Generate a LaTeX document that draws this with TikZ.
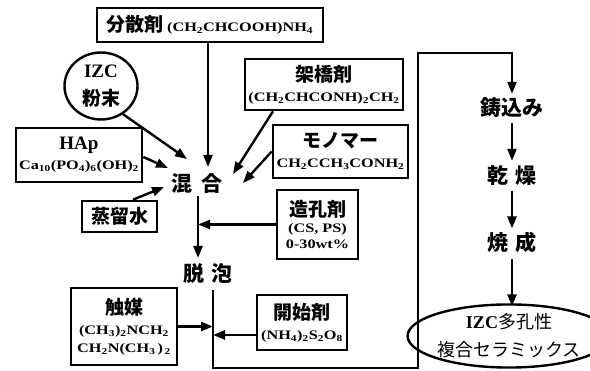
\documentclass[tikz,border=0pt]{standalone}
\usepackage{fontspec}
\setmainfont{Liberation Serif}
\newfontfamily\cjk{Noto Sans CJK JP}
\newfontfamily\chemf{Liberation Serif}[FakeStretch=1.25]
\newcommand\cjkb{\cjk\bfseries\fontsize{19}{22}\selectfont}
\newcommand\cjkbig{\cjk\bfseries\fontsize{21}{24}\selectfont}
\newcommand\chem{\chemf\bfseries\fontsize{13}{15}\selectfont}
\newcommand\latbig{\bfseries\fontsize{19}{21}\selectfont}
\usetikzlibrary{arrows.meta,shapes.geometric}
\tikzset{
  box/.style={draw,line width=2.6pt,inner sep=1pt,align=center,font=\bfseries\fontsize{13}{20}\selectfont},
  ell/.style={draw,ellipse,line width=2.4pt,inner sep=0pt,align=center,font=\fontsize{18}{28}\selectfont},
  lbl/.style={inner sep=2pt,font=\cjkbig},
  arr/.style={line width=2.4pt,-{Triangle[length=12pt,width=9pt]}},
  ln/.style={line width=2.4pt}
}
\begin{document}
\begin{tikzpicture}[x=1pt,y=-1pt]
\useasboundingbox (0,0) rectangle (590,371);
% boxes
\node[box,minimum width=226,minimum height=34] (disp) at (210,25) {{\cjkb 分散剤}\ {\chem (CH\textsubscript{2}CHCOOH)NH\textsubscript{4}}};
\node[ell,minimum width=73,minimum height=67] (izc) at (101,86) {{\latbig IZC}\\{\cjkb 粉末}};
\node[box,minimum width=126,minimum height=54] (hap) at (79,155) {{\latbig HAp}\\{\chem Ca\textsubscript{10}(PO\textsubscript{4})\textsubscript{6}(OH)\textsubscript{2}}};
\node[box,minimum width=158,minimum height=51] (cross) at (324,84.5) {{\cjkb 架橋剤}\\{\chem (CH\textsubscript{2}CHCONH)\textsubscript{2}CH\textsubscript{2}}};
\node[box,minimum width=135,minimum height=53] (mono) at (340.5,151.5) {{\cjkb モノマー}\\{\chem CH\textsubscript{2}CCH\textsubscript{3}CONH\textsubscript{2}}};
\node[box,minimum width=75,minimum height=31] (water) at (119.5,216.5) {{\cjkb 蒸留水}};
\node[box,minimum width=81,minimum height=69] (pore) at (317.5,224.5) {{\cjkb 造孔剤}\\[-4pt]{\chem (CS, PS)}\\[-4pt]{\chem 0-30wt\%}};
\node[box,minimum width=106,minimum height=77] (cat) at (124,326.5) {{\cjkb 触媒}\\{\chem (CH\textsubscript{3})\textsubscript{2}NCH\textsubscript{2}}\\[-2pt]{\chem CH\textsubscript{2}N(CH\textsubscript{3}\,)\textsubscript{\,2}}};
\node[box,minimum width=90,minimum height=55] (init) at (302,322.5) {{\cjkb 開始剤}\\{\chem (NH\textsubscript{4})\textsubscript{2}S\textsubscript{2}O\textsubscript{8}}};
% process labels
\node[lbl] (mix) at (197,184) {混\hspace{0.45em}合};
\node[lbl] (dep) at (208,274) {脱\hspace{0.3em}泡};
\node[lbl] (cast) at (512,108) {鋳込み};
\node[lbl] (dry) at (512,176) {乾\hspace{0.3em}燥};
\node[lbl] (fire) at (512,243) {焼\hspace{0.3em}成};
\node[ell,minimum width=158,minimum height=63] (prod) at (509,336) {{\bfseries IZC}{\cjk 多孔性}\\{\cjk 複合セラミックス}};
% target coordinates
\coordinate (t1) at (187,159);
\coordinate (t2) at (168,168);
\coordinate (t3) at (233,174);
\coordinate (t4) at (243,183);
\coordinate (t5) at (164,187);
\coordinate (j1) at (213,290);
\coordinate (c1) at (213,368);
\coordinate (c2) at (418,368);
\coordinate (c3) at (418,53);
% connectors into mixing
\draw[arr] (disp.south -| 208,0) -- (208,167);
\draw[arr] (izc.-52) -- (t1);
\draw[arr] ([yshift=-2pt]hap.east) -- (t2);
\draw[arr] (cross.south -| 273,0) -- (t3);
\draw[arr] (mono.west) -- (t4);
\draw[arr] (water.north -| 133,0) -- (t5);
\draw[arr] (mix.south -| 198,0) -- (198,258);
\draw[arr] (pore.west) -- (pore.west -| 198,0);
% after defoaming
\draw[arr] (j1) -- (c1) -- (c2) -- (c3) -| ([yshift=2pt]cast.north);
\draw[arr] (cat.east) -- (cat.east -| j1);
\draw[arr] ([yshift=-12.5pt]init.west) -- ([yshift=-12.5pt]init.west -| j1);
\draw[arr] ([yshift=-3pt]cast.south) -- ([yshift=3pt]dry.north);
\draw[arr] ([yshift=-3pt]dry.south) -- ([yshift=2pt]fire.north);
\draw[arr] ([yshift=-3pt]fire.south) -- ([yshift=-3pt]fire.south |- prod.north);
\end{tikzpicture}
\end{document}
